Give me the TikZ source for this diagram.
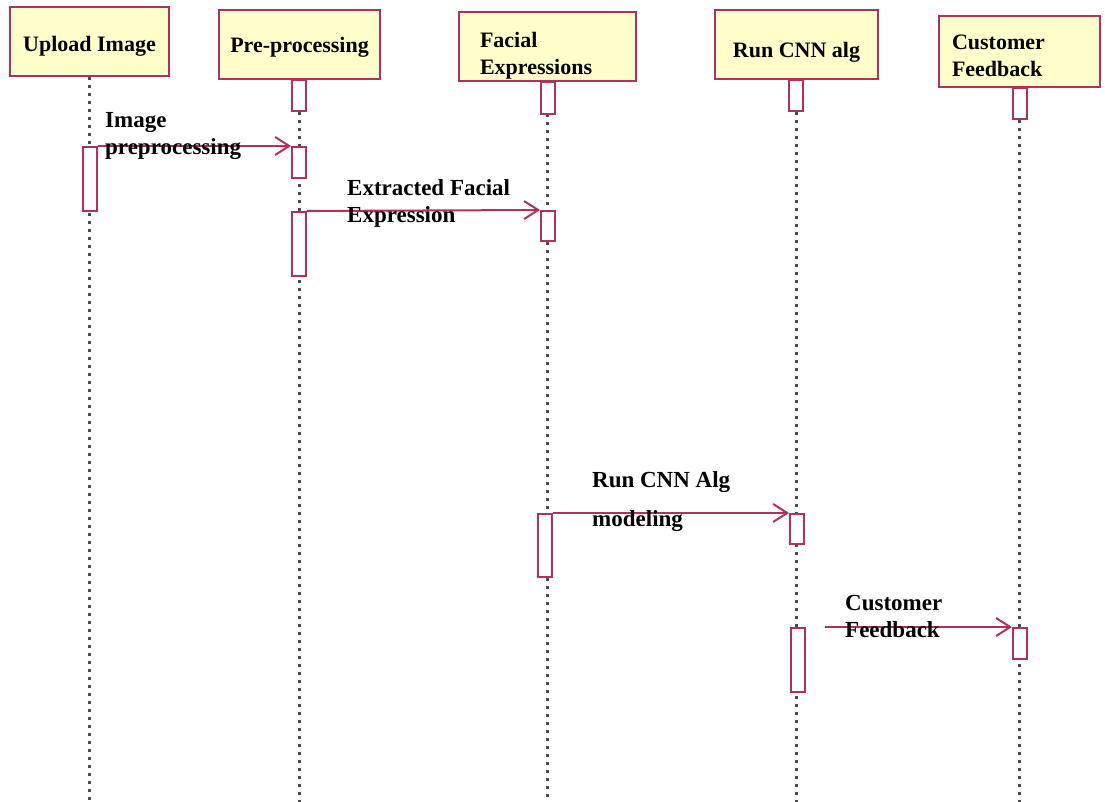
\documentclass[tikz,border=0pt]{standalone}
\usepackage{fontspec}
\setmainfont{Liberation Serif}
\usepackage{tikz}
\usetikzlibrary{arrows.meta}
\definecolor{seqred}{RGB}{176,48,96}
\definecolor{seqyellow}{RGB}{255,255,204}
\tikzset{
  actor/.style = {draw=seqred, fill=seqyellow, line width=2pt, align=left,
    inner sep=0pt, font=\fontsize{22}{27}\selectfont\bfseries},% objet en tete
  act/.style = {draw=seqred, fill=white, line width=2pt, inner sep=0pt,
    minimum width=14pt},% barre d'activation
  lifeline/.style = {gray!60!black, line width=2.5pt, dash pattern=on 3pt off 5pt},
  msg/.style = {seqred, line width=2pt, -{Straight Barb[length=14pt,width=18pt,line width=2pt]}},
  msglabel/.style = {align=left, inner sep=0pt, anchor=north west,
    font=\fontsize{23}{27}\selectfont\bfseries}
}
\newcommand{\hstrut}[1]{\rule{0pt}{#1pt}}

\begin{document}
\begin{tikzpicture}[x=1pt,y=-1pt]
    \useasboundingbox (0,0) rectangle (1105,802);
    % objets
    \node [actor, minimum width=159, minimum height=69] (up) at (89.5,41.5) {\hstrut{25}Upload Image};
    \node [actor, minimum width=161, minimum height=69] (pre) at (299.5,44.5) {\hstrut{21}Pre-processing};
    \node [actor, minimum width=177, minimum height=69, text width=135] (fac) at (547.5,46.5) {\hstrut{33}Facial\\Expressions};
    \node [actor, minimum width=163, minimum height=69] (cnn) at (796.5,44.5) {\hstrut{31}Run CNN alg};
    \node [actor, minimum width=161, minimum height=71, text width=135] (cus) at (1019.5,51.5) {\hstrut{23}Customer\\Feedback};
    % lignes de vie
    \draw [lifeline] (up.south) -- (up.south |- 0,802);
    \draw [lifeline] (pre.south) -- (pre.south |- 0,802);
    \draw [lifeline] (fac.south) -- (fac.south |- 0,802);
    \draw [lifeline] (cnn.south) -- (cnn.south |- 0,802);
    \draw [lifeline] (cus.south) -- (cus.south |- 0,802);
    % activations
    \node [act, minimum height=31, anchor=north] (p1) at (299,79) {};
    \node [act, minimum height=32, anchor=north] (f1) at (548,81) {};
    \node [act, minimum height=31, anchor=north] (r1) at (796,79) {};
    \node [act, minimum height=31, anchor=north] (c1) at (1020,87) {};
    \node [act, minimum height=64, anchor=north] (u2) at (90,146) {};
    \node [act, minimum height=31, anchor=north] (p2) at (299,146) {};
    \node [act, minimum height=64, anchor=north] (p3) at (299,211) {};
    \node [act, minimum height=30, anchor=north] (f2) at (548,210) {};
    \node [act, minimum height=63, anchor=north] (f3) at (545,513) {};
    \node [act, minimum height=30, anchor=north] (r2) at (797,513) {};
    \node [act, minimum height=64, anchor=north] (r3) at (798,627) {};
    \node [act, minimum height=31, anchor=north] (c2) at (1020,627) {};
    \coordinate (r3out) at (825,627);
    % messages
    \draw [msg] (u2.north east) -- (p2.north west);
    \draw [msg] (p3.north east) -- (f2.north west);
    \draw [msg] (f3.north east) -- (r2.north west);
    \draw [msg] (r3out) -- (c2.north west);
    \node [msglabel] (m1) at (105,112) {Image\\preprocessing};
    \node [msglabel] (m2) at (347,179) {Extracted Facial\\Expression};
    \node [msglabel] (m3) at (592,471) {Run CNN Alg\\[12pt]modeling};
    \node [msglabel] (m4) at (845,595) {Customer\\Feedback};
\end{tikzpicture}
\end{document}
